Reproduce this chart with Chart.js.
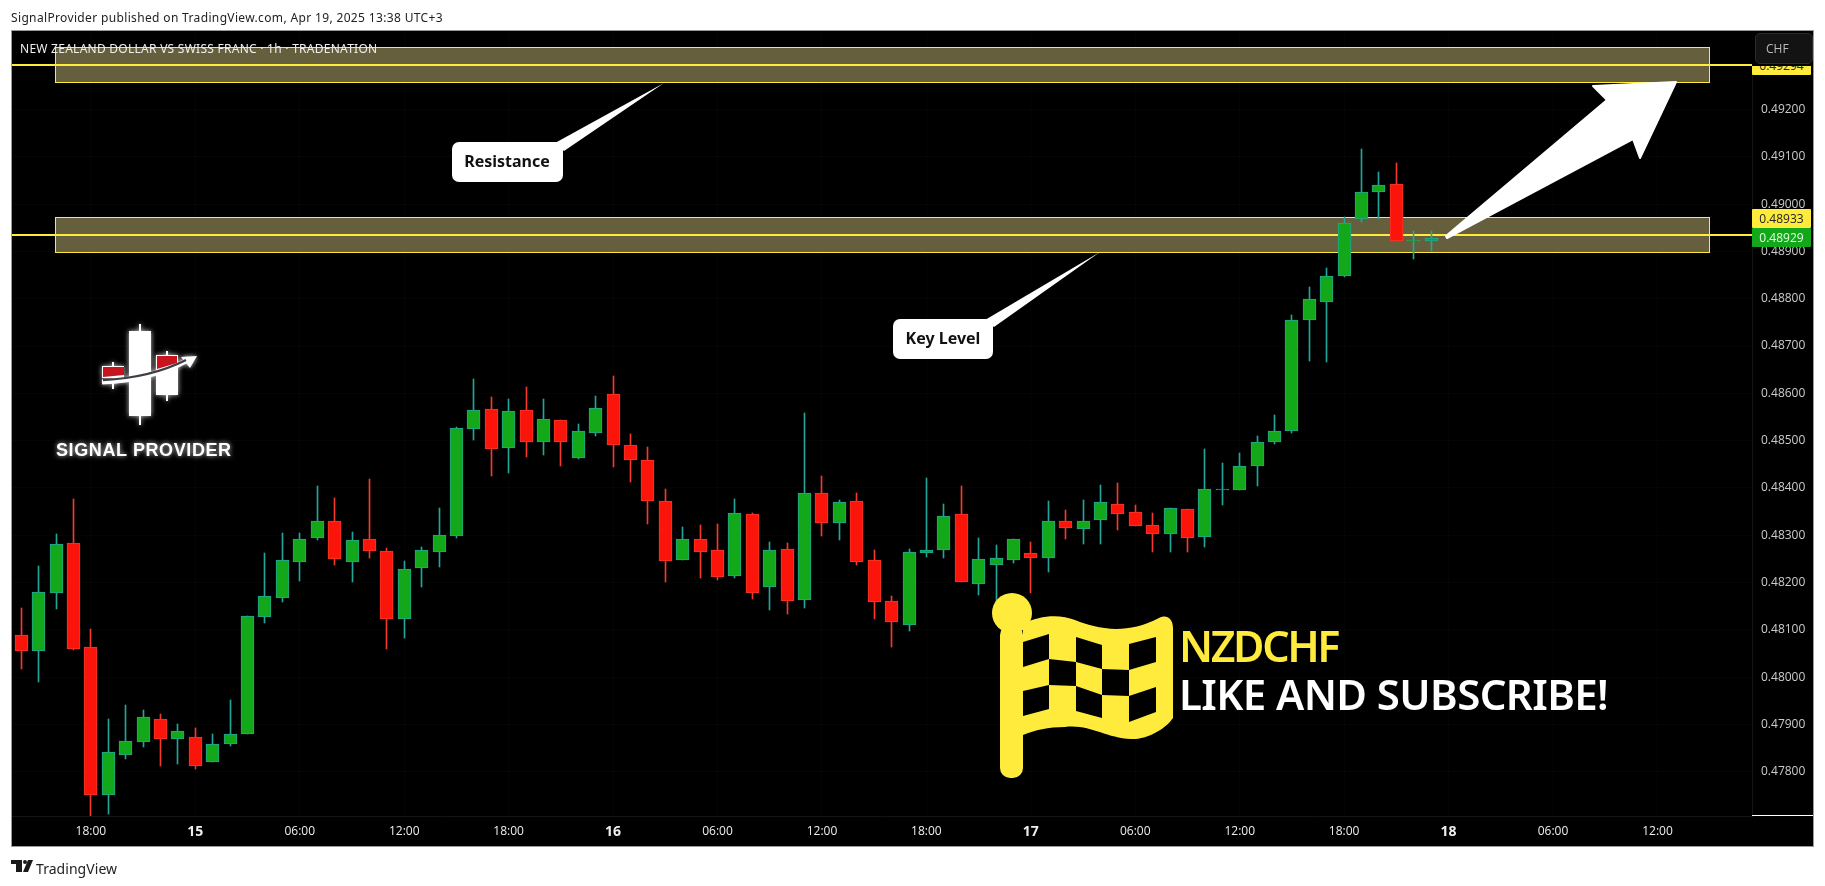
<!DOCTYPE html>
<html>
<head>
<meta charset="utf-8">
<title>NZDCHF</title>
<script src="https://cdn.jsdelivr.net/npm/chart.js@4"></script>
<style>
  html, body { margin: 0; padding: 0; background: #fff; overflow: hidden; }
  #wrap { position: relative; width: 1825px; height: 886px; }
  #chart { position: absolute; left: 0; top: 0; }
  .t { position: absolute; white-space: nowrap; line-height: 1; }
  #pub { left: 11px; top: 9px; font: 12px "Noto Sans"; color: #222; letter-spacing: 0.35px; }
  #foot { left: 36px; top: 859px; font: 14px "Noto Sans"; color: #222; letter-spacing: 0.05px; }
  #title { left: 20px; top: 40px; font: 12px "Noto Sans"; color: #eee; letter-spacing: 0.26px; }
  .box { position: absolute; left: 1752px; width: 59px; height: 19px; font: 12px/19px "Open Sans"; text-align: center; border-radius: 1px; }
  #strip { position: absolute; left: 1752px; top: 31px; width: 61px; height: 35px; background: #000; }
  #chf { position: absolute; left: 1755px; top: 33px; width: 46px; height: 29px; padding-left: 10px; background: #131313; border: 1px solid #2a2a2a; border-radius: 5px; color: #bbb; font: 12px/29px "Open Sans"; }
  .call { font: 700 16px "Noto Sans"; color: #111; transform: translate(-50%, -50%); }
  #brand { left: 56px; top: 440px; font: bold 18px "Liberation Sans"; color: #fff; text-shadow: 0 0 5px rgba(255,255,255,0.8); letter-spacing: 0.6px; }
  #pair { left: 1179px; top: 616px; font: 600 43px "Noto Sans"; color: #ffeb3b; letter-spacing: -2.4px; }
  #like { left: 1179px; top: 665px; font: 600 42px "Noto Sans"; color: #fff; letter-spacing: -0.6px; }
</style>
</head>
<body>
<div id="wrap">
  <canvas id="chart" width="1825" height="886"></canvas>
  <div class="t" id="pub">SignalProvider published on TradingView.com, Apr 19, 2025 13:38 UTC+3</div>
  <div class="t" id="title">NEW ZEALAND DOLLAR VS SWISS FRANC · 1h · TRADENATION</div>
  <div class="t" id="foot">TradingView</div>
  <div class="box" style="top:56px;background:#ffeb3b;color:#222">0.49294</div>
  <div id="strip"></div>
  <div id="chf">CHF</div>
  <div class="box" style="top:209px;background:#ffeb3b;color:#222">0.48933</div>
  <div class="box" style="top:228px;background:#12a81a;color:#e4ffe4">0.48929</div>
  <div class="t call" style="left:507px;top:161px">Resistance</div>
  <div class="t call" style="left:943px;top:338px">Key Level</div>
  <div class="t" id="brand">SIGNAL PROVIDER</div>
  <div class="t" id="pair">NZDCHF</div>
  <div class="t" id="like">LIKE AND SUBSCRIBE!</div>
</div>
<script>
// 1h candles
const opens = [
  0.48090, 0.48056, 0.48178, 0.48283, 0.48063, 0.47751, 0.47836, 0.47863, 0.47911, 0.47870,
  0.47873, 0.47821, 0.47859, 0.47880, 0.48126, 0.48168, 0.48244, 0.48295, 0.48331, 0.48244,
  0.48291, 0.48266, 0.48123, 0.48231, 0.48265, 0.48299, 0.48525, 0.48566, 0.48485, 0.48564,
  0.48498, 0.48543, 0.48464, 0.48517, 0.48598, 0.48490, 0.48458, 0.48372, 0.48248, 0.48293,
  0.48268, 0.48214, 0.48344, 0.48191, 0.48270, 0.48164, 0.48389, 0.48326, 0.48372, 0.48247,
  0.48160, 0.48111, 0.48263, 0.48269, 0.48344, 0.48197, 0.48238, 0.48248, 0.48262, 0.48252,
  0.48331, 0.48314, 0.48333, 0.48367, 0.48348, 0.48321, 0.48303, 0.48355, 0.48297, 0.48395,
  0.48396, 0.48447, 0.48496, 0.48521, 0.48754, 0.48794, 0.48849, 0.48968, 0.49025, 0.49042,
  0.48921, 0.48921
];
const highs = [
  0.48146, 0.48235, 0.48303, 0.48377, 0.48102, 0.47911, 0.47941, 0.47930, 0.47922, 0.47901,
  0.47892, 0.47880, 0.47952, 0.48129, 0.48262, 0.48305, 0.48305, 0.48404, 0.48379, 0.48307,
  0.48419, 0.48273, 0.48245, 0.48275, 0.48358, 0.48529, 0.48630, 0.48592, 0.48588, 0.48613,
  0.48588, 0.48543, 0.48535, 0.48594, 0.48637, 0.48514, 0.48486, 0.48398, 0.48317, 0.48322,
  0.48324, 0.48377, 0.48347, 0.48286, 0.48284, 0.48558, 0.48425, 0.48374, 0.48389, 0.48269,
  0.48171, 0.48271, 0.48421, 0.48366, 0.48404, 0.48294, 0.48279, 0.48293, 0.48286, 0.48372,
  0.48353, 0.48374, 0.48406, 0.48410, 0.48364, 0.48347, 0.48357, 0.48355, 0.48482, 0.48453,
  0.48474, 0.48510, 0.48554, 0.48766, 0.48825, 0.48865, 0.48973, 0.49116, 0.49068, 0.49087,
  0.48943, 0.48943
];
const lows = [
  0.48017, 0.47990, 0.48144, 0.48058, 0.47707, 0.47711, 0.47827, 0.47852, 0.47812, 0.47816,
  0.47806, 0.47821, 0.47854, 0.47880, 0.48114, 0.48159, 0.48203, 0.48290, 0.48237, 0.48201,
  0.48252, 0.48059, 0.48083, 0.48190, 0.48233, 0.48294, 0.48501, 0.48425, 0.48431, 0.48465,
  0.48470, 0.48446, 0.48461, 0.48510, 0.48444, 0.48413, 0.48324, 0.48201, 0.48248, 0.48210,
  0.48205, 0.48210, 0.48165, 0.48142, 0.48133, 0.48146, 0.48298, 0.48290, 0.48237, 0.48123,
  0.48064, 0.48097, 0.48254, 0.48252, 0.48200, 0.48174, 0.48152, 0.48241, 0.48178, 0.48222,
  0.48292, 0.48281, 0.48281, 0.48311, 0.48320, 0.48264, 0.48264, 0.48264, 0.48275, 0.48364,
  0.48396, 0.48404, 0.48493, 0.48516, 0.48669, 0.48667, 0.48846, 0.48963, 0.48969, 0.48923,
  0.48884, 0.48901
];
const closes = [
  0.48055, 0.48179, 0.48281, 0.48060, 0.47751, 0.47841, 0.47864, 0.47915, 0.47870, 0.47885,
  0.47813, 0.47858, 0.47879, 0.48129, 0.48171, 0.48247, 0.48293, 0.48331, 0.48250, 0.48289,
  0.48267, 0.48123, 0.48228, 0.48268, 0.48300, 0.48526, 0.48564, 0.48483, 0.48562, 0.48498,
  0.48545, 0.48496, 0.48520, 0.48568, 0.48491, 0.48458, 0.48373, 0.48246, 0.48291, 0.48265,
  0.48212, 0.48346, 0.48178, 0.48268, 0.48161, 0.48389, 0.48326, 0.48370, 0.48244, 0.48159,
  0.48117, 0.48264, 0.48268, 0.48340, 0.48200, 0.48249, 0.48251, 0.48293, 0.48252, 0.48331,
  0.48316, 0.48331, 0.48370, 0.48345, 0.48320, 0.48303, 0.48357, 0.48295, 0.48397, 0.48395,
  0.48446, 0.48498, 0.48520, 0.48754, 0.48799, 0.48849, 0.48961, 0.49025, 0.49040, 0.48923,
  0.48921, 0.48929
];

// time axis: candle index of each label
const timeTicks = [4, 10, 16, 22, 28, 34, 40, 46, 52, 58, 64, 70, 76, 82, 88, 94];
const timeLabels = ['18:00', '15', '06:00', '12:00', '18:00', '16', '06:00', '12:00', '18:00', '17', '06:00', '12:00', '18:00', '18', '06:00', '12:00'];
const priceTicks = [0.478, 0.479, 0.480, 0.481, 0.482, 0.483, 0.484, 0.485, 0.486, 0.487, 0.488, 0.489, 0.490, 0.491, 0.492];

// zones drawn on the chart
const zoneTops = [0.49331, 0.48972];
const zoneBottoms = [0.49257, 0.48898];
const levels = [0.49294, 0.48935];

const GREEN = '#12a81a', TEAL = '#22a69a', RED = '#fa1409', RED_LINE = '#f5392a', YELLOW = '#ffeb3b';
const isUp = opens.map((o, i) => closes[i] >= o);
const wickData = opens.map((_, i) => ({ x: i, y: [lows[i], highs[i]] }));
const bodyData = opens.map((o, i) => ({ x: i, y: [o, closes[i]] }));

function poly(ctx, pts) {
  ctx.beginPath();
  pts.forEach((p, i) => (i ? ctx.lineTo(p[0], p[1]) : ctx.moveTo(p[0], p[1])));
  ctx.closePath();
}

function callout(ctx, x, y, w, h, tail) {
  ctx.fillStyle = '#fff';
  ctx.beginPath();
  ctx.roundRect(x, y, w, h, 7);
  ctx.fill();
  poly(ctx, tail);
  ctx.fill();
}

const frame = {
  id: 'frame',
  beforeDraw(chart) {
    const ctx = chart.ctx;
    ctx.fillStyle = '#000';
    ctx.fillRect(11, 30, 1802, 816);
    ctx.strokeStyle = '#999';
    ctx.lineWidth = 1;
    ctx.strokeRect(11.5, 30.5, 1802, 816);
  }
};

// keep candles on whole pixels like the original, and put the zones behind them
const zones = {
  id: 'zones',
  beforeDatasetsDraw(chart) {
    const { ctx, chartArea, scales } = chart;
    const y = scales.y;
    const x0 = 55, x1 = 1709;
    zoneTops.forEach((top, i) => {
      const a = Math.floor(y.getPixelForValue(top)) + 0.5;
      const b = Math.floor(y.getPixelForValue(zoneBottoms[i])) + 0.5;
      ctx.fillStyle = '#665f3d';
      ctx.fillRect(x0, a, x1 - x0, b - a);
      ctx.strokeStyle = YELLOW;
      ctx.lineWidth = 1;
      ctx.strokeRect(x0 + 0.5, a, x1 - x0, b - a);
      const ly = Math.round(y.getPixelForValue(levels[i]));
      ctx.lineWidth = 2;
      ctx.beginPath();
      ctx.moveTo(chartArea.left, ly);
      ctx.lineTo(chartArea.right, ly);
      ctx.stroke();
    });
    chart.data.datasets.forEach((_, d) => {
      chart.getDatasetMeta(d).data.forEach((bar) => {
        bar.x = Math.floor(bar.x) + 0.5;
        bar.y = Math.round(bar.y);
        bar.base = Math.round(bar.base);
      });
    });
  }
};

const drawings = {
  id: 'drawings',
  afterDraw(chart) {
    const ctx = chart.ctx;
    ctx.save();

    // price scale bottom line
    ctx.fillStyle = '#fff';
    ctx.fillRect(1752, 815, 61, 1);

    callout(ctx, 452, 142, 111, 40, [[555, 143], [664, 83], [564, 151]]);
    callout(ctx, 893, 319, 100, 40, [[985, 320], [1100, 252], [994, 327]]);

    // big arrow
    ctx.fillStyle = '#fff';
    ctx.strokeStyle = '#fff';
    ctx.lineWidth = 2;
    ctx.lineJoin = 'round';
    poly(ctx, [[1446, 236], [1607, 100], [1593, 86], [1676, 82], [1640, 158], [1633, 139], [1447, 238]]);
    ctx.fill();
    ctx.stroke();

    drawLogo(ctx);
    drawFlag(ctx);
    drawTvMark(ctx);
    ctx.restore();
  }
};

function drawLogo(ctx) {
  ctx.save();
  ctx.shadowColor = 'rgba(255,255,255,0.8)';
  ctx.shadowBlur = 5;
  ctx.fillStyle = '#fff';
  ctx.fillRect(129, 331, 22, 85);
  ctx.fillRect(139, 324, 2, 101);
  ctx.fillRect(102, 366, 22, 12);
  ctx.fillRect(112, 380, 2, 9);
  ctx.fillRect(112, 362, 2, 6);
  ctx.fillRect(156, 355, 22, 40);
  ctx.fillRect(166, 351, 2, 50);
  ctx.lineWidth = 5;
  ctx.strokeStyle = '#fff';
  ctx.beginPath();
  ctx.moveTo(102, 382);
  ctx.quadraticCurveTo(150, 380, 188, 360);
  ctx.stroke();
  poly(ctx, [[197, 356], [181, 357], [190, 368]]);
  ctx.fill();
  ctx.shadowBlur = 0;
  ctx.fillStyle = '#c8141f';
  poly(ctx, [[103, 367], [124, 367], [124, 375], [103, 377]]);
  ctx.fill();
  poly(ctx, [[157, 356], [177, 356], [177, 363], [157, 369]]);
  ctx.fill();
  ctx.strokeStyle = '#3c3f46';
  ctx.lineWidth = 2.5;
  ctx.beginPath();
  ctx.moveTo(103, 380);
  ctx.quadraticCurveTo(150, 378, 186, 360);
  ctx.stroke();
  ctx.restore();
}

function drawFlag(ctx) {
  ctx.save();
  ctx.fillStyle = YELLOW;
  ctx.beginPath();
  ctx.arc(1012, 613, 20, 0, Math.PI * 2);
  ctx.fill();
  ctx.beginPath();
  ctx.roundRect(1000, 625, 23, 153, 10);
  ctx.fill();
  ctx.beginPath();
  ctx.moveTo(1023, 624);
  ctx.bezierCurveTo(1040, 615, 1060, 614, 1075, 620);
  ctx.bezierCurveTo(1095, 628, 1125, 636, 1159, 618);
  ctx.bezierCurveTo(1166, 614, 1173, 618, 1173, 628);
  ctx.lineTo(1173, 718);
  ctx.bezierCurveTo(1165, 730, 1145, 740, 1131, 739);
  ctx.bezierCurveTo(1105, 738, 1090, 724, 1065, 727);
  ctx.bezierCurveTo(1048, 727, 1035, 730, 1023, 735);
  ctx.closePath();
  ctx.fill();
  // black squares of the checker
  ctx.fillStyle = '#000';
  const squares = [
    [1023, 642, 1049, 634, 1049, 659, 1023, 667],
    [1076, 637, 1102, 645, 1102, 669, 1076, 662],
    [1129, 644, 1156, 637, 1156, 662, 1129, 670],
    [1049, 659, 1076, 662, 1076, 686, 1049, 685],
    [1102, 669, 1129, 670, 1129, 696, 1102, 695],
    [1023, 691, 1049, 685, 1049, 709, 1023, 716],
    [1076, 686, 1102, 695, 1102, 718, 1076, 711],
    [1129, 696, 1156, 687, 1156, 712, 1129, 722]
  ];
  squares.forEach((s) => {
    poly(ctx, [[s[0], s[1]], [s[2], s[3]], [s[4], s[5]], [s[6], s[7]]]);
    ctx.fill();
  });
  ctx.restore();
}

function drawTvMark(ctx) {
  ctx.fillStyle = '#1a1a1a';
  ctx.fillRect(11, 860, 11, 4);
  ctx.fillRect(16, 860, 6, 12);
  ctx.beginPath();
  ctx.arc(25, 862, 2, 0, Math.PI * 2);
  ctx.fill();
  poly(ctx, [[28, 860], [33, 860], [28, 872], [23, 872]]);
  ctx.fill();
}

new Chart(document.getElementById('chart').getContext('2d'), {
  data: {
    datasets: [
      {
        type: 'bar',
        data: bodyData,
        order: 1,
        grouped: false,
        barThickness: 13,
        minBarLength: 1,
        borderWidth: 1,
        borderSkipped: false,
        backgroundColor: isUp.map((u) => (u ? GREEN : RED)),
        borderColor: isUp.map((u) => (u ? TEAL : RED_LINE))
      },
      {
        type: 'bar',
        data: wickData,
        order: 2,
        grouped: false,
        barThickness: 1,
        backgroundColor: isUp.map((u) => (u ? TEAL : RED_LINE))
      }
    ]
  },
  options: {
    responsive: false,
    animation: false,
    events: [],
    layout: { padding: { left: 12, right: 12, top: 31, bottom: 40 } },
    plugins: { legend: { display: false }, tooltip: { enabled: false } },
    scales: {
      x: {
        type: 'linear',
        offset: false,
        min: -0.534,
        max: 99.43,
        afterBuildTicks(axis) {
          axis.ticks = timeTicks.map((v) => ({ value: v }));
        },
        afterFit(axis) { axis.height = 30; },
        grid: { offset: false, color: 'rgba(255,255,255,0.02)', drawTicks: false },
        border: { color: '#141414' },
        ticks: {
          autoSkip: false,
          maxRotation: 0,
          padding: 8,
          color: '#eee',
          callback: (v) => timeLabels[timeTicks.indexOf(v)],
          font: (c) => {
            const label = timeLabels[c.index] || '';
            return label.length < 3
              ? { family: 'Open Sans', size: 14, weight: 'bold' }
              : { family: 'Open Sans', size: 12 };
          }
        }
      },
      y: {
        type: 'linear',
        position: 'right',
        min: 0.477063,
        max: 0.49366,
        afterBuildTicks(axis) {
          axis.ticks = priceTicks.map((v) => ({ value: v }));
        },
        afterFit(axis) { axis.width = 61; },
        grid: { color: 'rgba(255,255,255,0.02)', drawTicks: false },
        border: { color: '#141414' },
        ticks: {
          crossAlign: 'center',
          padding: 9,
          color: '#ccc',
          font: { family: 'Open Sans', size: 12 },
          callback: (v) => v.toFixed(5)
        }
      }
    }
  },
  plugins: [frame, zones, drawings]
});
</script>
</body>
</html>
